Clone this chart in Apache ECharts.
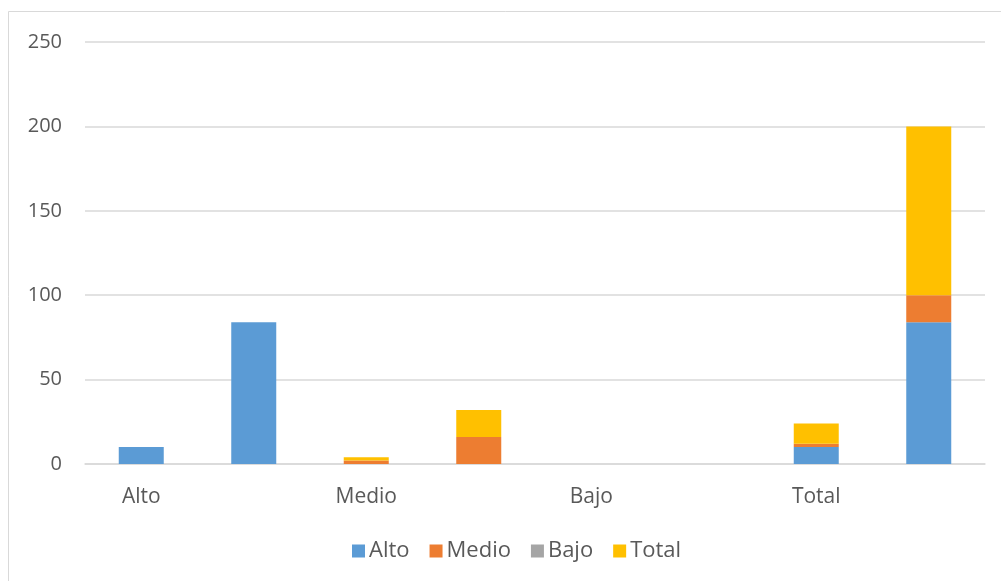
<!DOCTYPE html>
<html>
<head>
<meta charset="utf-8">
<script src="https://cdn.jsdelivr.net/npm/echarts@6/dist/echarts.min.js"></script>
<style>
html,body{margin:0;padding:0;background:#fff;}
#chart{width:1001px;height:581px;}
</style>
</head>
<body>
<div id="chart"></div>
<script>
const categories = ['Alto', '', 'Medio', '', 'Bajo', '', 'Total', ''];
const seriesNames = ['Alto', 'Medio', 'Bajo', 'Total'];
const altoValues  = [10, 84, 0, 0, 0, 0, 10, 84];
const medioValues = [0, 0, 2, 16, 0, 0, 2, 16];
const bajoValues  = [0, 0, 0, 0, 0, 0, 0, 0];
const totalValues = [0, 0, 2, 16, 0, 0, 12, 100];
const yTicks = [0, 50, 100, 150, 200, 250];

const colors = ['#5B9BD5', '#ED7D31', '#A5A5A5', '#FFC000'];
const font = 'Open Sans';
const valuesList = [altoValues, medioValues, bajoValues, totalValues];

const chart = echarts.init(document.getElementById('chart'), null, {renderer: 'canvas'});
chart.setOption({
  animation: false,
  backgroundColor: '#fff',
  textStyle: {fontFamily: font},
  graphic: [{
    type: 'rect',
    shape: {x: 8.5, y: 11.5, width: 1100, height: 1000},
    style: {fill: 'none', stroke: '#D9D9D9', lineWidth: 1},
    silent: true,
    z: -1
  }],
  grid: {left: 85, right: 16, top: 42, bottom: 117, containLabel: false},
  legend: {
    left: 347,
    top: 535,
    itemWidth: 13,
    itemHeight: 13,
    itemGap: 20,
    icon: 'rect',
    textStyle: {fontFamily: font, fontSize: 22, color: '#595959', padding: [0, 0, 0, -1]},
    data: seriesNames
  },
  xAxis: {
    type: 'category',
    data: categories,
    axisLine: {show: true, lineStyle: {color: '#D9D9D9', width: 1.5}},
    axisTick: {show: false},
    axisLabel: {interval: 0, margin: 23, fontFamily: font, fontSize: 21, color: '#595959'}
  },
  yAxis: {
    type: 'value',
    min: yTicks[0],
    max: yTicks[yTicks.length - 1],
    interval: yTicks[1] - yTicks[0],
    axisLine: {show: false},
    axisTick: {show: false},
    splitLine: {lineStyle: {color: '#D9D9D9', width: 1.5}},
    axisLabel: {margin: 23, fontFamily: font, fontSize: 20, color: '#595959'}
  },
  series: seriesNames.map((name, i) => ({
    name: name,
    type: 'bar',
    stack: 'all',
    barWidth: 45,
    itemStyle: {color: colors[i]},
    data: valuesList[i]
  }))
});
</script>
</body>
</html>
